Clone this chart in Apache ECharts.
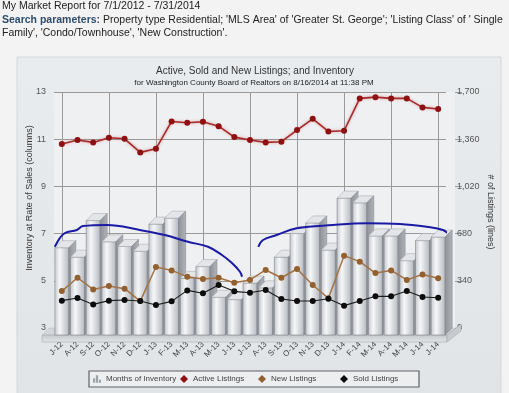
<!DOCTYPE html>
<html>
<head>
<meta charset="utf-8">
<script src="https://cdn.jsdelivr.net/npm/echarts@6/dist/echarts.min.js"></script>
<style>
html,body{margin:0;padding:0;background:#f3f3f3;}
#chart{width:509px;height:393px;}
</style>
</head>
<body>
<div id="chart"></div>
<script>
// ---- data ----
const categories = ['J-12','A-12','S-12','O-12','N-12','D-12','J-13','F-13','M-13','A-13','M-13','J-13','J-13','A-13','S-13','O-13','N-13','D-13','J-14','F-14','M-14','A-14','M-14','J-14','J-14'];
const monthsOfInventory = [6.7,6.3,7.85,6.95,6.75,6.55,7.7,7.95,5.4,5.9,4.6,4.5,5.2,5.0,6.3,7.3,7.75,6.6,8.8,8.6,7.2,7.2,6.15,7.0,7.15];
const activeListings = [1325,1354,1337,1370,1363,1265,1291,1488,1478,1486,1454,1375,1354,1337,1342,1426,1507,1416,1421,1654,1663,1654,1654,1589,1577];
const newListings = [266,362,278,302,283,194,439,415,370,353,362,326,346,418,362,425,310,214,521,478,396,415,346,386,358];
const soldListings = [197,216,170,197,202,194,166,192,271,250,310,264,254,274,209,194,194,211,161,194,228,228,266,223,218];
// hand-drawn blue annotation strokes: [category position, listings]
const annotationA = [[-0.45,585],[-0.13,648],[0.19,684],[0.96,706],[1.34,734],[2.87,742],[4.98,706],[6.57,670],[8.04,621],[9.32,585],[10.21,526],[10.85,468],[11.36,405],[11.49,369]];
const annotationB = [[12.53,585],[12.83,634],[13.70,670],[14.98,718],[17.29,742],[19.44,754],[21.57,749],[23.27,729],[24.31,706],[24.76,670],[25.27,646]];
const leftTicks = {min:3, max:13, interval:2};
const rightTicks = {min:0, max:1700, interval:340};

const FONT = 'Liberation Sans, Arial, sans-serif';
const chart = echarts.init(document.getElementById('chart'));
const D = 7, BW = 14;

function renderBar(params, api) {
  const idx = api.value(0), v = api.value(1);
  const top = api.coord([idx, v]);
  const base = api.coord([idx, leftTicks.min]);
  const x0 = top[0] - BW/2, x1 = top[0] + BW/2;
  const yt = top[1] + D, yb = base[1] + D;
  return {
    type: 'group',
    children: [
      {type:'rect', shape:{x:x0, y:yt, width:BW, height:yb-yt},
       style:{fill:new echarts.graphic.LinearGradient(0,0,1,0,[{offset:0,color:'#c3c7cc'},{offset:0.35,color:'#f6f7f9'},{offset:1,color:'#b4b8be'}]), stroke:'#80848a', lineWidth:0.6}},
      {type:'polygon', shape:{points:[[x0,yt],[x1,yt],[x1+D,yt-D],[x0+D,yt-D]]},
       style:{fill:'#e3e5e8', stroke:'#a0a4aa', lineWidth:0.5}},
      {type:'polygon', shape:{points:[[x1,yt],[x1+D,yt-D],[x1+D,yb-D],[x1,yb]]},
       style:{fill:new echarts.graphic.LinearGradient(0,0,1,0,[{offset:0,color:'#8e9298'},{offset:1,color:'#b0b4ba'}]), stroke:'#7a7e84', lineWidth:0.5}}
    ]
  };
}

const legendBase = {top:375, itemWidth:8, itemHeight:8, itemGap:0, padding:0,
  textStyle:{fontSize:8, color:'#444', fontFamily:FONT}, selectedMode:false};

const option = {
  backgroundColor:'#f3f3f3',
  animation:false,
  textStyle:{fontFamily:FONT},
  grid:{left:54, right:63, top:92, bottom:65},
  xAxis:[{
    type:'category', data:categories, boundaryGap:true,
    axisLine:{show:false}, axisTick:{show:false},
    axisLabel:{rotate:45, fontSize:8, color:'#444', margin:15, interval:0, fontFamily:FONT},
    splitLine:{show:true, interval:2, alignWithLabel:true, lineStyle:{color:'#9a9a9a', width:1}}
  },{
    type:'value', min:-0.5, max:24.5, show:false
  }],
  yAxis:[{
    type:'value', min:leftTicks.min, max:leftTicks.max, interval:leftTicks.interval, position:'left',
    axisLine:{show:false}, axisTick:{show:true, length:7, lineStyle:{color:'#999'}},
    axisLabel:{fontSize:9, color:'#555', margin:8, fontFamily:FONT},
    splitLine:{show:true, lineStyle:{color:'#9a9a9a', width:1}}
  },{
    type:'value', min:rightTicks.min, max:rightTicks.max, interval:rightTicks.interval, position:'right', offset:9,
    axisLine:{show:false}, axisTick:{show:true, length:7, lineStyle:{color:'#999'}},
    axisLabel:{fontSize:9, color:'#555', margin:2, fontFamily:FONT},
    splitLine:{show:false}
  }],
  legend:[
    Object.assign({}, legendBase, {left:93, data:[{name:'Months of Inventory', icon:'path://M0,10L0,4L3,4L3,10Z M4,10L4,0L7,0L7,10Z M8,10L8,6L11,6L11,10Z'}]}),
    Object.assign({}, legendBase, {left:180, data:[{name:'Active Listings', icon:'diamond'}]}),
    Object.assign({}, legendBase, {left:258, data:[{name:'New Listings', icon:'diamond'}]}),
    Object.assign({}, legendBase, {left:340, data:[{name:'Sold Listings', icon:'diamond'}]})
  ],
  graphic:[
    {type:'rect', z:-20, shape:{x:17, y:57, width:484, height:345},
     style:{fill:new echarts.graphic.LinearGradient(0,0,0,1,[{offset:0,color:'#e9ecef'},{offset:1,color:'#e1e4e7'}]), stroke:'#d4d7da'}},
    {type:'rect', z:-15, shape:{x:54, y:92, width:401, height:236}, style:{fill:'#eef0f2'}},
    // floor
    {type:'polygon', z:1, shape:{points:[[42,335],[447,335],[455,328],[49,328]]}, style:{fill:'#d3d6da', stroke:'#b8bcc1', lineWidth:0.5}},
    {type:'polygon', z:1, shape:{points:[[42,335],[447,335],[447,342],[42,342]]},
     style:{fill:new echarts.graphic.LinearGradient(0,0,0,1,[{offset:0,color:'#c4c7cb'},{offset:1,color:'#e3e5e7'}]), stroke:'#9ea2a7', lineWidth:0.5}},
    {type:'polygon', z:1, shape:{points:[[447,335],[461,324],[461,331],[447,342]]}, style:{fill:'#c7cacf', stroke:'#9ea2a7', lineWidth:0.5}},
    // legend box
    {type:'rect', z:-1, shape:{x:89, y:371, width:330, height:16},
     style:{fill:'#eceef0', stroke:'#5e6166', lineWidth:1.2}},
    // header texts
    {type:'text', z:10, x:2, y:1, style:{text:'My Market Report for 7/1/2012 - 7/31/2014', font:'10.5px '+FONT, fill:'#222'}},
    {type:'text', z:10, x:2, y:15, style:{text:'{b|Search parameters:} Property type Residential; \'MLS Area\' of \'Greater St. George\'; \'Listing Class\' of \' Single', font:'10.5px '+FONT, fill:'#222',
      rich:{b:{font:'bold 10.5px '+FONT, fill:'#2c4d6c', fontWeight:'bold', fontSize:10.5, fontFamily:FONT, color:'#2c4d6c'}}}},
    {type:'text', z:10, x:2, y:28, style:{text:'Family\', \'Condo/Townhouse\', \'New Construction\'.', font:'10.5px '+FONT, fill:'#222'}},
    // chart titles
    {type:'text', z:10, x:255, y:71, style:{text:'Active, Sold and New Listings; and Inventory', font:'10px '+FONT, fill:'#333', align:'center', verticalAlign:'middle', textAlign:'center', textVerticalAlign:'middle'}},
    {type:'text', z:10, x:254, y:83, style:{text:'for Washington County Board of Realtors on 8/16/2014 at 11:38 PM', font:'8px '+FONT, fill:'#222', align:'center', verticalAlign:'middle', textAlign:'center', textVerticalAlign:'middle'}},
    // axis names
    {type:'text', z:10, x:30, y:198, rotation:Math.PI/2, style:{text:'Inventory at Rate of Sales (columns)', font:'9px '+FONT, fill:'#333', align:'center', verticalAlign:'middle', textAlign:'center', textVerticalAlign:'middle'}},
    {type:'text', z:10, x:490, y:212, rotation:-Math.PI/2, style:{text:'# of Listings (lines)', font:'9px '+FONT, fill:'#333', align:'center', verticalAlign:'middle', textAlign:'center', textVerticalAlign:'middle'}}
  ],
  series:[
    {name:'Months of Inventory', type:'custom', renderItem:renderBar, z:2,
     xAxisIndex:0, yAxisIndex:0, encode:{x:0, y:1},
     itemStyle:{color:'#9ea3a9'},
     data:monthsOfInventory.map((v,i)=>[i,v])},
    {name:'Active Listings', type:'line', xAxisIndex:0, yAxisIndex:1, z:4, data:activeListings,
     symbol:'circle', symbolSize:6, itemStyle:{color:'#8e1010'},
     lineStyle:{color:'#a52a2a', width:1.6, shadowColor:'rgba(210,90,90,0.6)', shadowBlur:3}},
    {name:'New Listings', type:'line', xAxisIndex:0, yAxisIndex:1, z:4, data:newListings,
     symbol:'circle', symbolSize:6, itemStyle:{color:'#93602f'}, lineStyle:{color:'#a47245', width:1.5}},
    {name:'Sold Listings', type:'line', xAxisIndex:0, yAxisIndex:1, z:4, data:soldListings,
     symbol:'circle', symbolSize:6, itemStyle:{color:'#0c0c0c'}, lineStyle:{color:'#1a1a1a', width:1.1}},
    {name:'annotA', type:'line', xAxisIndex:1, yAxisIndex:1, z:5, data:annotationA, smooth:0.4, clip:false,
     showSymbol:false, symbol:'none', lineStyle:{color:'#1a1aa5', width:2}, silent:true},
    {name:'annotB', type:'line', xAxisIndex:1, yAxisIndex:1, z:5, data:annotationB, smooth:0.4, clip:false,
     showSymbol:false, symbol:'none', lineStyle:{color:'#1a1aa5', width:2}, silent:true}
  ]
};
chart.setOption(option);
</script>
</body>
</html>
